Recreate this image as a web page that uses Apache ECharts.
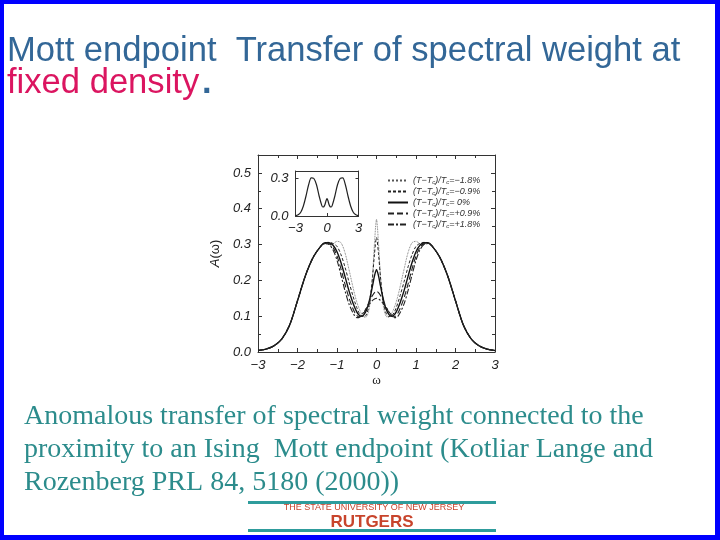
<!DOCTYPE html>
<html><head><meta charset="utf-8">
<script src="https://cdn.jsdelivr.net/npm/echarts@6/dist/echarts.min.js"></script>
<style>html,body{margin:0;padding:0;background:#fff}#c{width:720px;height:540px}</style>
</head><body><div id="c"></div>
<script>
const omega = [-3.0,-2.8,-2.6,-2.4,-2.2,-2.0,-1.8,-1.6,-1.4,-1.3,-1.2,-1.1,-1.0,-0.9,-0.8,-0.7,-0.6,-0.55,-0.5,-0.45,-0.4,-0.35,-0.3,-0.25,-0.2,-0.15,-0.1,-0.05,0,0.05,0.1,0.15,0.2,0.25,0.3,0.35,0.4,0.45,0.5,0.55,0.6,0.7,0.8,0.9,1.0,1.1,1.2,1.3,1.4,1.6,1.8,2.0,2.2,2.4,2.6,2.8,3.0];
const aMinus18 = [0.004,0.008,0.017,0.036,0.075,0.143,0.213,0.265,0.296,0.302,0.300,0.302,0.309,0.305,0.278,0.232,0.183,0.160,0.140,0.124,0.111,0.102,0.097,0.099,0.113,0.148,0.212,0.305,0.370,0.305,0.212,0.148,0.113,0.099,0.097,0.102,0.111,0.124,0.140,0.160,0.183,0.232,0.278,0.305,0.309,0.302,0.300,0.302,0.296,0.265,0.213,0.143,0.075,0.036,0.017,0.008,0.004];
const aMinus09 = [0.004,0.008,0.017,0.036,0.075,0.143,0.213,0.265,0.297,0.305,0.306,0.303,0.295,0.272,0.238,0.197,0.158,0.140,0.124,0.111,0.103,0.099,0.099,0.106,0.125,0.160,0.210,0.275,0.320,0.275,0.210,0.160,0.125,0.106,0.099,0.099,0.103,0.111,0.124,0.140,0.158,0.197,0.238,0.272,0.295,0.303,0.306,0.305,0.297,0.265,0.213,0.143,0.075,0.036,0.017,0.008,0.004];
const aZero = [0.004,0.008,0.017,0.036,0.075,0.143,0.213,0.265,0.297,0.305,0.305,0.298,0.280,0.250,0.212,0.172,0.138,0.124,0.112,0.104,0.100,0.101,0.107,0.118,0.135,0.158,0.185,0.213,0.230,0.213,0.185,0.158,0.135,0.118,0.107,0.101,0.100,0.104,0.112,0.124,0.138,0.172,0.212,0.250,0.280,0.298,0.305,0.305,0.297,0.265,0.213,0.143,0.075,0.036,0.017,0.008,0.004];
const aPlus09 = [0.004,0.008,0.017,0.036,0.075,0.143,0.213,0.265,0.297,0.305,0.303,0.292,0.268,0.232,0.190,0.152,0.122,0.110,0.102,0.098,0.099,0.104,0.113,0.124,0.136,0.148,0.158,0.166,0.170,0.166,0.158,0.148,0.136,0.124,0.113,0.104,0.099,0.098,0.102,0.110,0.122,0.152,0.190,0.232,0.268,0.292,0.303,0.305,0.297,0.265,0.213,0.143,0.075,0.036,0.017,0.008,0.004];
const aPlus18 = [0.004,0.008,0.017,0.036,0.075,0.143,0.213,0.265,0.296,0.303,0.300,0.285,0.256,0.215,0.172,0.135,0.110,0.101,0.096,0.096,0.100,0.107,0.115,0.123,0.131,0.138,0.144,0.148,0.150,0.148,0.144,0.138,0.131,0.123,0.115,0.107,0.100,0.096,0.096,0.101,0.110,0.135,0.172,0.215,0.256,0.285,0.300,0.303,0.296,0.265,0.213,0.143,0.075,0.036,0.017,0.008,0.004];
const insetOmega = [-3,-2.75,-2.5,-2.25,-2,-1.75,-1.5,-1.25,-1,-0.75,-0.5,-0.4,-0.3,-0.2,-0.1,0,0.1,0.2,0.3,0.4,0.5,0.75,1,1.25,1.5,1.75,2,2.25,2.5,2.75,3];
const insetA = [0.003,0.01,0.03,0.08,0.16,0.25,0.305,0.30,0.25,0.16,0.085,0.072,0.074,0.09,0.12,0.14,0.12,0.09,0.074,0.072,0.085,0.16,0.25,0.30,0.305,0.25,0.16,0.08,0.03,0.01,0.003];
const seriesNames = ['(T−Tc)/Tc=−1.8%','(T−Tc)/Tc=−0.9%','(T−Tc)/Tc= 0%','(T−Tc)/Tc=+0.9%','(T−Tc)/Tc=+1.8%'];
const legendRich = ['(T−T{s|c})/T{s|c}=−1.8%','(T−T{s|c})/T{s|c}=−0.9%','(T−T{s|c})/T{s|c}= 0%','(T−T{s|c})/T{s|c}=+0.9%','(T−T{s|c})/T{s|c}=+1.8%'];
const titleLine1 = 'Mott endpoint  Transfer of spectral weight at';
const titleLine2 = 'fixed density';
const captionLines = ['Anomalous transfer of spectral weight connected to the','proximity to an Ising  Mott endpoint (Kotliar Lange and','Rozenberg PRL 84, 5180 (2000))'];

const styles = [
  {width:0.8, type:'dotted', color:'#555'},
  {width:1, type:[3,2], color:'#222'},
  {width:1.4, type:'solid', color:'#111'},
  {width:1.1, type:[6,3], color:'#222'},
  {width:1.1, type:[6,2,2,2], color:'#222'}
];
const allData = [aMinus18,aMinus09,aZero,aPlus09,aPlus18];

const lblFont = {fontFamily:'Liberation Sans', fontStyle:'italic', fontSize:13, color:'#222'};
const minusFmt = v => String(v).replace('-', '−');
const axLine = {show:true, onZero:false, lineStyle:{color:'#333', width:1}};

const chart = echarts.init(document.getElementById('c'), null, {renderer:'canvas'});
const series = allData.map((d,i)=>({
  name: seriesNames[i], type:'line', xAxisIndex:0, yAxisIndex:0,
  data: omega.map((w,k)=>[w,d[k]]), showSymbol:false, symbol:'none', smooth:0.3,
  lineStyle: styles[i], itemStyle:{color:styles[i].color}, silent:true, animation:false, z:3+i
}));
series.push({
  name:'inset', type:'line', xAxisIndex:2, yAxisIndex:2,
  data: insetOmega.map((w,k)=>[w,insetA[k]]), showSymbol:false, symbol:'none', smooth:0.3,
  lineStyle:{width:1.2, color:'#222'}, animation:false
});

const graphics = [];
graphics.push({type:'text', left:7, top:34, style:{text:titleLine1, font:'34.6px "Liberation Sans"', fill:'#336797'}});
graphics.push({type:'text', left:7, top:66, style:{text:titleLine2, font:'34.6px "Liberation Sans"', fill:'#DB1560'}});
graphics.push({type:'text', left:202, top:66, style:{text:'.', font:'bold 34.6px "Liberation Sans"', fill:'#336797'}});
captionLines.forEach((t,i)=>graphics.push({type:'text', left:24, top:403+i*33, style:{text:t, font:'28px "Liberation Serif"', fill:'#2C8C8C'}}));
graphics.push({type:'rect', shape:{x:248,y:501,width:248,height:3}, style:{fill:'#2E9C9C'}});
graphics.push({type:'rect', shape:{x:248,y:529,width:248,height:3}, style:{fill:'#2E9C9C'}});
graphics.push({type:'text', x:374, y:508, style:{text:'THE STATE UNIVERSITY OF NEW JERSEY', font:'9px "Liberation Sans"', fill:'#C8442C', align:'center', verticalAlign:'middle'}});
graphics.push({type:'text', x:372, y:522, style:{text:'RUTGERS', font:'bold 17px "Liberation Sans"', fill:'#C8442C', align:'center', verticalAlign:'middle'}});
graphics.push({type:'rect', shape:{x:0,y:0,width:720,height:4}, style:{fill:'#0000FF'}});
graphics.push({type:'rect', shape:{x:0,y:535,width:720,height:5}, style:{fill:'#0000FF'}});
graphics.push({type:'rect', shape:{x:0,y:0,width:4,height:540}, style:{fill:'#0000FF'}});
graphics.push({type:'rect', shape:{x:715,y:0,width:5,height:540}, style:{fill:'#0000FF'}});

chart.setOption({
  backgroundColor:'#fff',
  animation:false,
  graphic: graphics,
  grid:[
    {left:258, top:155, width:237, height:197, show:false},
    {left:295.5, top:171, width:63, height:45, show:false, z:10}
  ],
  legend:{
    data: seriesNames, orient:'vertical', left:382, top:171, itemWidth:20, itemHeight:8, itemGap:1.5,
    itemStyle:{color:'rgba(0,0,0,0)', borderWidth:0, opacity:0},
    formatter: n => legendRich[seriesNames.indexOf(n)],
    textStyle:{fontFamily:'Liberation Sans', fontStyle:'italic', fontSize:9, color:'#333',
      rich:{s:{fontFamily:'Liberation Sans', fontStyle:'italic', fontSize:6, color:'#333', padding:[4,0,0,0]}}},
    selectedMode:false
  },
  xAxis:[
    {type:'value', gridIndex:0, min:-3, max:3, interval:1, position:'bottom',
     axisLine:axLine, axisTick:{inside:true, length:4, lineStyle:{color:'#333'}},
     minorTick:{show:true, splitNumber:2, length:3, lineStyle:{color:'#333'}},
     splitLine:{show:false}, axisLabel:Object.assign({margin:7, formatter:minusFmt}, lblFont),
     name:'ω', nameLocation:'middle', nameGap:22, nameTextStyle:{fontFamily:'Liberation Serif', fontSize:13, color:'#222'}},
    {type:'value', gridIndex:0, min:-3, max:3, interval:1, position:'top',
     axisLine:axLine, axisTick:{inside:true, length:4, lineStyle:{color:'#333'}},
     minorTick:{show:true, splitNumber:2, length:3, lineStyle:{color:'#333'}},
     splitLine:{show:false}, axisLabel:{show:false}},
    {type:'value', gridIndex:1, min:-3, max:3, interval:3, position:'bottom',
     axisLine:axLine, axisTick:{inside:true, length:3, lineStyle:{color:'#333'}},
     splitLine:{show:false}, axisLabel:Object.assign({margin:6, formatter:minusFmt}, lblFont)},
    {type:'value', gridIndex:1, min:-3, max:3, interval:3, position:'top',
     axisLine:axLine, axisTick:{show:false}, splitLine:{show:false}, axisLabel:{show:false}}
  ],
  yAxis:[
    {type:'value', gridIndex:0, min:0, max:0.55, interval:0.1, position:'left',
     axisLine:axLine, axisTick:{inside:true, length:4, lineStyle:{color:'#333'}},
     minorTick:{show:true, splitNumber:2, length:3, lineStyle:{color:'#333'}},
     splitLine:{show:false}, axisLabel:Object.assign({margin:7, showMaxLabel:false, formatter:v=>v.toFixed(1)}, lblFont),
     name:'{i|A}(ω)', nameLocation:'middle', nameGap:36, nameRotate:90,
     nameTextStyle:{fontFamily:'Liberation Sans', fontSize:13, color:'#222', rich:{i:{fontFamily:'Liberation Sans', fontStyle:'italic', fontSize:13, color:'#222'}}}},
    {type:'value', gridIndex:0, min:0, max:0.55, interval:0.1, position:'right',
     axisLine:axLine, axisTick:{inside:true, length:4, lineStyle:{color:'#333'}},
     minorTick:{show:true, splitNumber:2, length:3, lineStyle:{color:'#333'}},
     splitLine:{show:false}, axisLabel:{show:false}},
    {type:'value', gridIndex:1, min:0, max:0.36, interval:0.3, position:'left',
     axisLine:axLine, axisTick:{inside:true, length:3, lineStyle:{color:'#333'}},
     splitLine:{show:false}, axisLabel:Object.assign({margin:7, showMaxLabel:false, formatter:v=>v.toFixed(1)}, lblFont)},
    {type:'value', gridIndex:1, min:0, max:0.36, interval:0.3, position:'right',
     axisLine:axLine, axisTick:{inside:true, length:3, lineStyle:{color:'#333'}},
     splitLine:{show:false}, axisLabel:{show:false}}
  ],
  series: series
});
</script></body></html>
